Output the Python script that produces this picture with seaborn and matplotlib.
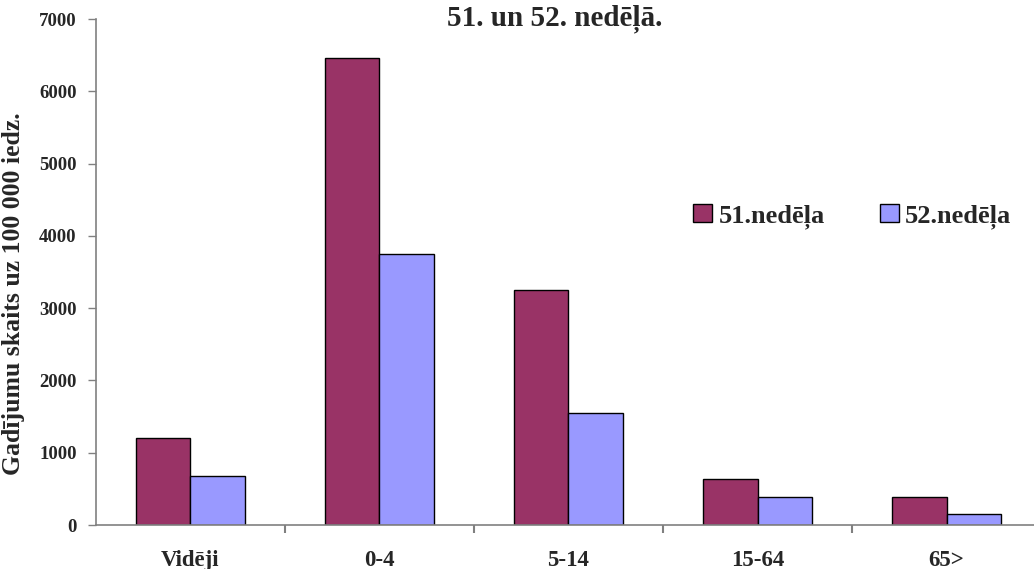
import pandas as pd
import seaborn as sns
import matplotlib.pyplot as plt
from matplotlib.ticker import FixedLocator

# chart data
groups = ["Vidēji", "0-4", "5-14", "15-64", "65>"]
week51 = [1200, 6460, 3250, 630, 390]
week52 = [680, 3750, 1550, 390, 150]
series = ["51.nedēļa", "52.nedēļa"]

df = pd.DataFrame({
    "grupa": groups * 2,
    "nedela": [series[0]] * len(groups) + [series[1]] * len(groups),
    "gadijumi": week51 + week52,
})

sns.set_style("white")
plt.rcParams["font.family"] = ["Liberation Serif", "DejaVu Serif"]
plt.rcParams["font.weight"] = "bold"

fig = plt.figure(figsize=(10.34, 5.69), dpi=100)
ax = fig.add_axes([0.0928, 0.0773, 0.9140, 0.8893])

sns.barplot(data=df, x="grupa", y="gadijumi", hue="nedela", order=groups, hue_order=series,
            palette=["#993366", "#9999FF"], width=0.577, gap=0, saturation=1,
            edgecolor="black", linewidth=1, ax=ax)

ax.set_xlim(-0.5, len(groups) - 0.5)
ax.set_ylim(0, 7000)
ax.set_yticks(range(0, 7001, 1000))
ax.tick_params(axis="y", labelsize=13.5, length=6, width=1, color="#808080", direction="out", left=True, pad=8)
ax.tick_params(axis="x", which="major", labelsize=16.5, length=0, pad=18)
ax.xaxis.set_minor_locator(FixedLocator([i + 0.5 for i in range(len(groups))]))
ax.tick_params(axis="x", which="minor", length=6, width=1.5, color="#808080", direction="out", bottom=True)

for side in ["top", "right"]:
    ax.spines[side].set_visible(False)
for side in ["left", "bottom"]:
    ax.spines[side].set_color("#808080")
    ax.spines[side].set_linewidth(1.2)

ax.set_xlabel("")
ax.set_ylabel("Gadījumu skaits uz 100 000 iedz.", fontsize=18.5, fontweight="bold")
ax.yaxis.set_label_coords(-0.075, 0.458)

fig.text(0.536, 0.992, "51. un 52. nedēļā.", ha="center", va="top", fontsize=21, fontweight="bold")

ax.legend(loc="center left", bbox_to_anchor=(0.607, 0.61), ncol=2, frameon=False,
          handlelength=0.7, handleheight=0.7, handletextpad=0.25, columnspacing=2.1,
          prop={"weight": "bold", "size": 19})

fig.savefig("out.png", dpi=100)
